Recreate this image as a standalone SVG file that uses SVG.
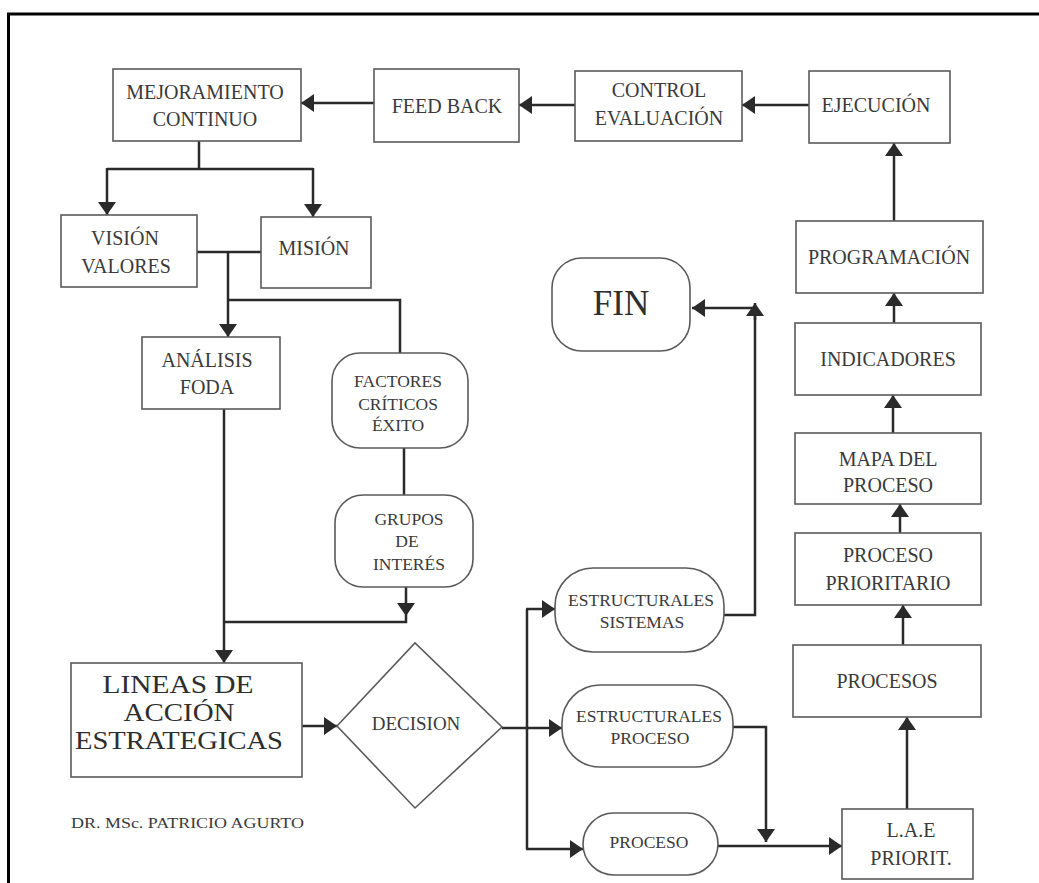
<svg xmlns="http://www.w3.org/2000/svg" width="1039" height="883" viewBox="0 0 1039 883">
  <style>
    .box { fill: #ffffff; stroke: #5a5a5a; stroke-width: 1.6; }
    .lbl { font-family: "Liberation Serif", "Times New Roman", serif; fill: #3a3a3a; text-anchor: middle; }
    .t20 { font-size: 20px; }
    .t17 { font-size: 17.5px; }
    .big { font-size: 25px; fill: #2e2e2e; }
    .fin { font-size: 35px; fill: #2e2e2e; }
    .wire { fill: none; stroke: #2a2a2a; stroke-width: 2.5; }
    .head { fill: #2a2a2a; }
    .frame { stroke: #000000; stroke-width: 3; }
  </style>
  <defs>
    <marker id="arrow" markerUnits="userSpaceOnUse" markerWidth="14" markerHeight="18" refX="13" refY="9" orient="auto">
      <path d="M0,0 L13,9 L0,18 z" class="head"/>
    </marker>
  </defs>

  <rect x="0" y="0" width="1039" height="883" fill="#ffffff"/>

  <!-- page frame -->
  <g id="frame">
    <line class="frame" x1="7" y1="14" x2="1039" y2="14"/>
    <line class="frame" x1="8.5" y1="14" x2="8.5" y2="883"/>
  </g>

  <!-- connectors -->
  <g id="connectors">
    <line class="wire" x1="809" y1="105" x2="742" y2="105" marker-end="url(#arrow)"/>
    <line class="wire" x1="575" y1="105" x2="519" y2="105" marker-end="url(#arrow)"/>
    <line class="wire" x1="374" y1="103" x2="301" y2="103" marker-end="url(#arrow)"/>
    <polyline class="wire" points="199,141 199,169"/>
    <polyline class="wire" points="107,169 313,169"/>
    <line class="wire" x1="107" y1="168" x2="107" y2="215" marker-end="url(#arrow)"/>
    <line class="wire" x1="313" y1="168" x2="313" y2="217" marker-end="url(#arrow)"/>
    <line class="wire" x1="197" y1="252" x2="261" y2="252"/>
    <line class="wire" x1="228" y1="252" x2="228" y2="337" marker-end="url(#arrow)"/>
    <polyline class="wire" points="228,300 400,300 400,353"/>
    <line class="wire" x1="224" y1="409" x2="224" y2="663" marker-end="url(#arrow)"/>
    <line class="wire" x1="404" y1="448" x2="404" y2="495"/>
    <polyline class="wire" points="406,587 406,622 224,622"/>
    <polygon class="head" points="397,603 415,603 406,616"/>
    <line class="wire" x1="302" y1="726" x2="337" y2="726" marker-end="url(#arrow)"/>
    <line class="wire" x1="502" y1="728" x2="527" y2="728"/>
    <line class="wire" x1="527" y1="609" x2="527" y2="849"/>
    <line class="wire" x1="526" y1="609" x2="555" y2="609" marker-end="url(#arrow)"/>
    <line class="wire" x1="527" y1="728" x2="562" y2="728" marker-end="url(#arrow)"/>
    <line class="wire" x1="526" y1="849" x2="583" y2="849" marker-end="url(#arrow)"/>
    <polyline class="wire" points="724,615 755,615 755,308"/>
    <line class="wire" x1="755" y1="320" x2="755" y2="303" marker-end="url(#arrow)"/>
    <line class="wire" x1="756" y1="308" x2="692" y2="308" marker-end="url(#arrow)"/>
    <polyline class="wire" points="733,727 766,727 766,842" marker-end="url(#arrow)"/>
    <line class="wire" x1="718" y1="846" x2="842" y2="846" marker-end="url(#arrow)"/>
    <line class="wire" x1="907" y1="809" x2="907" y2="717" marker-end="url(#arrow)"/>
    <line class="wire" x1="903" y1="645" x2="903" y2="605" marker-end="url(#arrow)"/>
    <line class="wire" x1="900" y1="533" x2="900" y2="504" marker-end="url(#arrow)"/>
    <line class="wire" x1="893" y1="433" x2="893" y2="395" marker-end="url(#arrow)"/>
    <line class="wire" x1="894" y1="323" x2="894" y2="293" marker-end="url(#arrow)"/>
    <line class="wire" x1="894" y1="221" x2="894" y2="143" marker-end="url(#arrow)"/>
  </g>

  <!-- nodes -->
  <g id="mejoramiento">
    <rect class="box" x="113" y="69" width="188" height="72"/>
    <text class="lbl t20" x="205" y="99">MEJORAMIENTO</text>
    <text class="lbl t20" x="205" y="126">CONTINUO</text>
  </g>
  <g id="feedback">
    <rect class="box" x="374" y="69" width="145" height="73"/>
    <text class="lbl t20" x="447" y="113">FEED BACK</text>
  </g>
  <g id="control">
    <rect class="box" x="575" y="71" width="167" height="70"/>
    <text class="lbl t20" x="659" y="97">CONTROL</text>
    <text class="lbl t20" x="659" y="125">EVALUACIÓN</text>
  </g>
  <g id="ejecucion">
    <rect class="box" x="809" y="71" width="141" height="72"/>
    <text class="lbl t20" x="876" y="112">EJECUCIÓN</text>
  </g>
  <g id="programacion">
    <rect class="box" x="796" y="221" width="187" height="72"/>
    <text class="lbl t20" x="889" y="264">PROGRAMACIÓN</text>
  </g>
  <g id="indicadores">
    <rect class="box" x="795" y="323" width="186" height="72"/>
    <text class="lbl t20" x="888" y="366">INDICADORES</text>
  </g>
  <g id="mapa">
    <rect class="box" x="795" y="433" width="186" height="71"/>
    <text class="lbl t20" x="888" y="466">MAPA DEL</text>
    <text class="lbl t20" x="888" y="492">PROCESO</text>
  </g>
  <g id="proceso-prioritario">
    <rect class="box" x="795" y="533" width="186" height="72"/>
    <text class="lbl t20" x="888" y="562">PROCESO</text>
    <text class="lbl t20" x="888" y="590">PRIORITARIO</text>
  </g>
  <g id="procesos">
    <rect class="box" x="793" y="645" width="188" height="72"/>
    <text class="lbl t20" x="887" y="688">PROCESOS</text>
  </g>
  <g id="lae">
    <rect class="box" x="842" y="809" width="131" height="70"/>
    <text class="lbl t20" x="911" y="837">L.A.E</text>
    <text class="lbl t20" x="911" y="865">PRIORIT.</text>
  </g>
  <g id="proceso">
    <rect class="box" x="583" y="813" width="135" height="62" rx="31" ry="31"/>
    <text class="lbl t17" x="649" y="848">PROCESO</text>
  </g>
  <g id="estructurales-proceso">
    <rect class="box" x="562" y="685" width="171" height="82" rx="38" ry="38"/>
    <text class="lbl t17" x="649" y="722">ESTRUCTURALES</text>
    <text class="lbl t17" x="650" y="744">PROCESO</text>
  </g>
  <g id="estructurales-sistemas">
    <rect class="box" x="555" y="568" width="169" height="84" rx="38" ry="38"/>
    <text class="lbl t17" x="641" y="606">ESTRUCTURALES</text>
    <text class="lbl t17" x="642" y="628">SISTEMAS</text>
  </g>
  <g id="fin">
    <rect class="box" x="552" y="258" width="138" height="93" rx="30" ry="30"/>
    <text class="lbl fin" x="621" y="315">FIN</text>
  </g>
  <g id="decision">
    <polygon class="box" points="337,726 415,643 502,727 415,808"/>
    <text class="lbl t20" x="416" y="730" style="font-size:19px">DECISION</text>
  </g>
  <g id="lineas">
    <rect class="box" x="71" y="663" width="231" height="114"/>
    <text class="lbl big" x="178" y="693" textLength="151" lengthAdjust="spacingAndGlyphs">LINEAS DE</text>
    <text class="lbl big" x="179" y="721" textLength="111" lengthAdjust="spacingAndGlyphs">ACCIÓN</text>
    <text class="lbl big" x="179" y="749" textLength="208" lengthAdjust="spacingAndGlyphs">ESTRATEGICAS</text>
  </g>
  <g id="analisis">
    <rect class="box" x="142" y="337" width="138" height="72"/>
    <text class="lbl t20" x="207" y="367">ANÁLISIS</text>
    <text class="lbl t20" x="207" y="394">FODA</text>
  </g>
  <g id="factores">
    <rect class="box" x="332" y="353" width="136" height="95" rx="28" ry="28"/>
    <text class="lbl t17" x="398" y="387">FACTORES</text>
    <text class="lbl t17" x="398" y="410">CRÍTICOS</text>
    <text class="lbl t17" x="398" y="431">ÉXITO</text>
  </g>
  <g id="grupos">
    <rect class="box" x="335" y="495" width="138" height="92" rx="28" ry="28"/>
    <text class="lbl t17" x="409" y="525">GRUPOS</text>
    <text class="lbl t17" x="407" y="547">DE</text>
    <text class="lbl t17" x="409" y="570">INTERÉS</text>
  </g>
  <g id="vision">
    <rect class="box" x="61" y="215" width="136" height="72"/>
    <text class="lbl t20" x="125" y="245">VISIÓN</text>
    <text class="lbl t20" x="126" y="273">VALORES</text>
  </g>
  <g id="mision">
    <rect class="box" x="261" y="217" width="110" height="71"/>
    <text class="lbl t20" x="314" y="255">MISIÓN</text>
  </g>

  <text id="autor" class="lbl" x="71" y="828" style="text-anchor:start;font-size:15px" textLength="233" lengthAdjust="spacingAndGlyphs">DR. MSc. PATRICIO AGURTO</text>
</svg>
